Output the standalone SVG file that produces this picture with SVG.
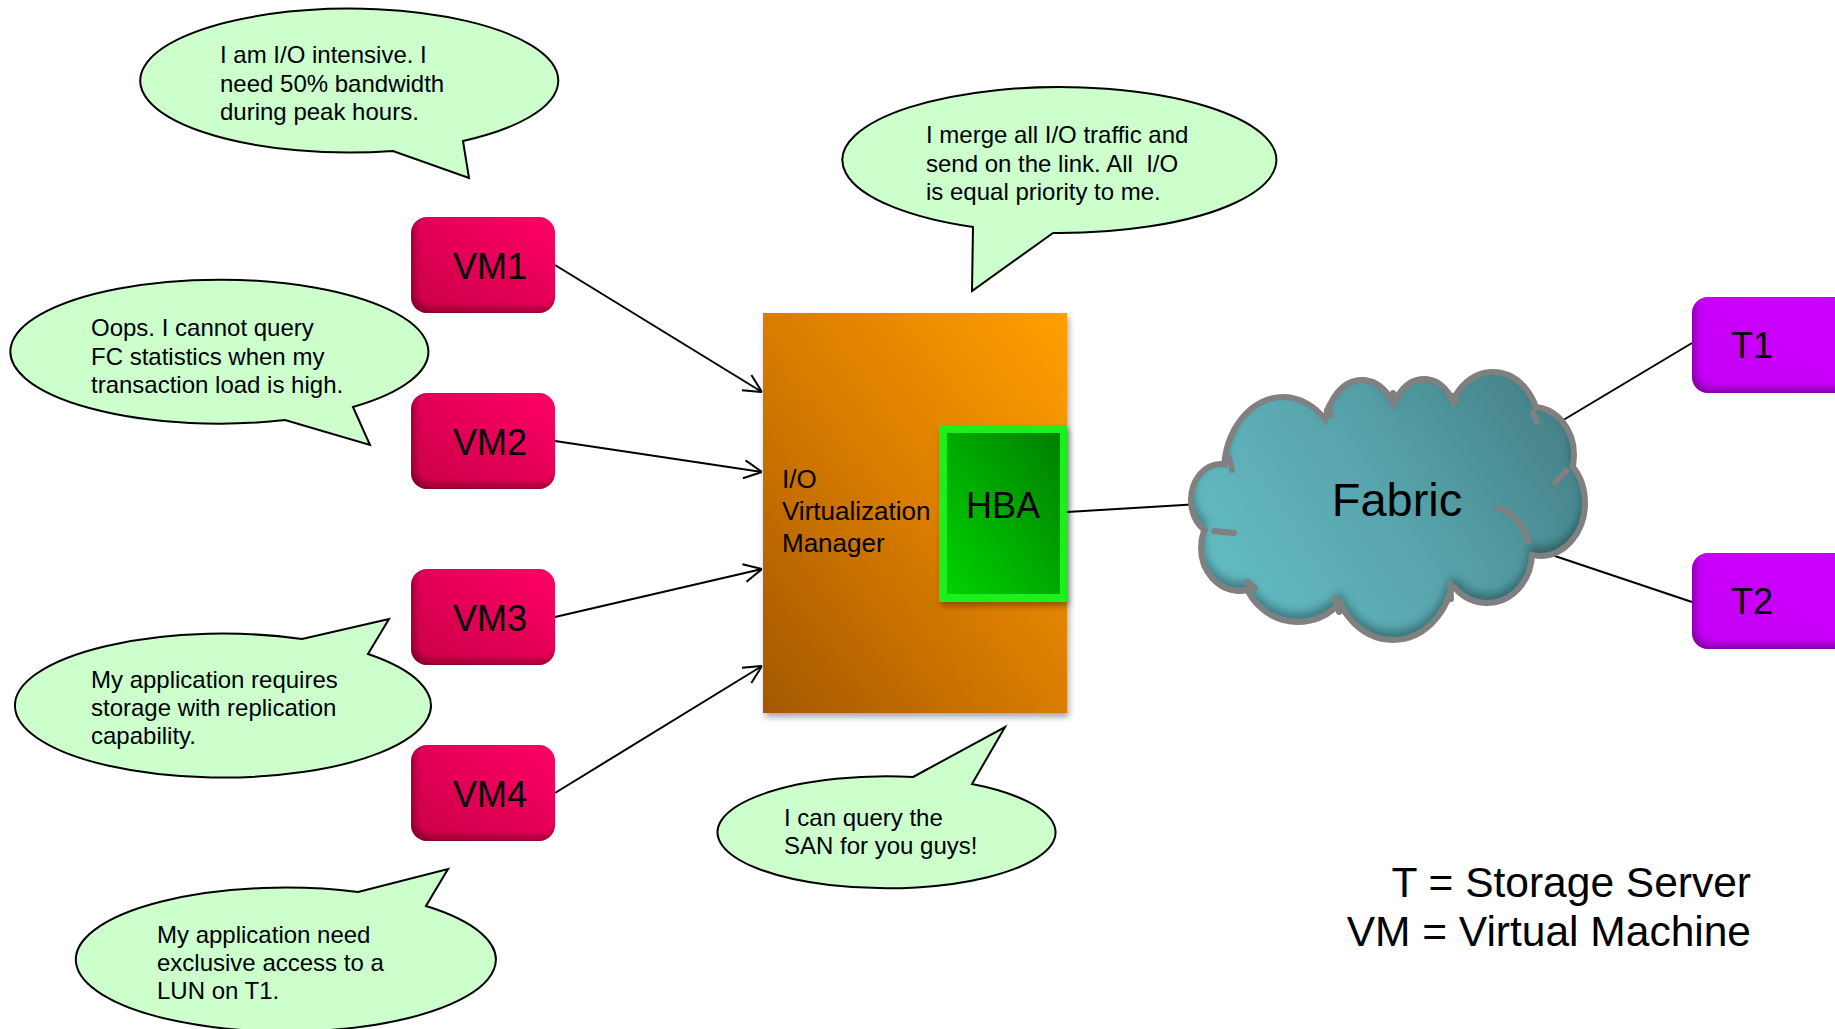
<svg xmlns="http://www.w3.org/2000/svg" width="1835" height="1029" viewBox="0 0 1835 1029">
  <defs>
    <style>
      .bubble { fill: #ccffcc; stroke: #000; stroke-width: 2; }
      .btxt { font-family: "Liberation Sans", Arial, sans-serif; font-size: 24px; fill: #000; white-space: pre; }
      .box-label { font-family: "Liberation Sans", Arial, sans-serif; font-size: 36px; fill: #000; text-anchor: middle; }
      .conn { stroke: #000; stroke-width: 2; fill: none; }
      .cloud-edge { fill: none; stroke: #808080; stroke-width: 6; stroke-linecap: round; }
      .legend { font-family: "Liberation Sans", Arial, sans-serif; font-size: 42.5px; fill: #000; text-anchor: end; }
    </style>
    <linearGradient id="vmFill" x1="0" y1="1" x2="1" y2="0">
      <stop offset="0" stop-color="#c80046"/>
      <stop offset="1" stop-color="#ff0066"/>
    </linearGradient>
    <linearGradient id="tFill" x1="0" y1="1" x2="1" y2="0">
      <stop offset="0" stop-color="#c400f4"/>
      <stop offset="1" stop-color="#cc00ff"/>
    </linearGradient>
    <linearGradient id="iovmFill" x1="0" y1="1" x2="1" y2="0">
      <stop offset="0" stop-color="#a45800"/>
      <stop offset="0.5" stop-color="#d97c00"/>
      <stop offset="1" stop-color="#ffa000"/>
    </linearGradient>
    <linearGradient id="hbaFill" x1="0" y1="1" x2="1" y2="0">
      <stop offset="0" stop-color="#00d200"/>
      <stop offset="1" stop-color="#007f00"/>
    </linearGradient>
    <linearGradient id="cloudFill" gradientUnits="userSpaceOnUse" x1="1200" y1="630" x2="1580" y2="380">
      <stop offset="0" stop-color="#66c0c8"/>
      <stop offset="0.5" stop-color="#58a4ac"/>
      <stop offset="1" stop-color="#437c82"/>
    </linearGradient>
    <filter id="innerShade" x="-10%" y="-10%" width="120%" height="120%">
      <feOffset in="SourceAlpha" dx="4" dy="-5" result="off"/>
      <feGaussianBlur in="off" stdDeviation="3" result="blur"/>
      <feComposite in="SourceAlpha" in2="blur" operator="out" result="edge"/>
      <feFlood flood-color="#200010" flood-opacity="0.6"/>
      <feComposite in2="edge" operator="in" result="shade"/>
      <feMerge><feMergeNode in="SourceGraphic"/><feMergeNode in="shade"/></feMerge>
    </filter>
    <filter id="cloudShade" x="-10%" y="-10%" width="120%" height="120%">
      <feOffset in="SourceAlpha" dx="0" dy="-7" result="off"/>
      <feGaussianBlur in="off" stdDeviation="4" result="blur"/>
      <feComposite in="SourceAlpha" in2="blur" operator="out" result="edge"/>
      <feFlood flood-color="#102a2e" flood-opacity="0.6"/>
      <feComposite in2="edge" operator="in" result="shade"/>
      <feMerge><feMergeNode in="SourceGraphic"/><feMergeNode in="shade"/></feMerge>
    </filter>
    <filter id="dropShadow" x="-10%" y="-10%" width="125%" height="125%">
      <feGaussianBlur in="SourceAlpha" stdDeviation="3"/>
      <feOffset dx="2" dy="4" result="b"/>
      <feFlood flood-color="#000" flood-opacity="0.35"/>
      <feComposite in2="b" operator="in"/>
      <feMerge><feMergeNode/><feMergeNode in="SourceGraphic"/></feMerge>
    </filter>
    <marker id="openArrow" viewBox="0 0 20 20" refX="20" refY="10" markerWidth="20" markerHeight="20" markerUnits="userSpaceOnUse" orient="auto">
      <path d="M2,1 L20,10 L2,19" fill="none" stroke="#000" stroke-width="2"/>
    </marker>
  </defs>

  <rect width="1835" height="1029" fill="#fff"/>

  <!-- connectors -->
  <g id="connectors">
    <line class="conn" x1="555" y1="265" x2="762" y2="392" marker-end="url(#openArrow)"/>
    <line class="conn" x1="555" y1="441" x2="762" y2="472" marker-end="url(#openArrow)"/>
    <line class="conn" x1="555" y1="617" x2="762" y2="569" marker-end="url(#openArrow)"/>
    <line class="conn" x1="555" y1="793" x2="762" y2="666" marker-end="url(#openArrow)"/>
    <line class="conn" x1="1067" y1="512" x2="1200" y2="504"/>
    <line class="conn" x1="1555" y1="425" x2="1692" y2="343"/>
    <line class="conn" x1="1540" y1="551" x2="1692" y2="602"/>
  </g>

  <!-- speech bubbles -->
  <g id="bubble-io">
    <path class="bubble" d="M463,141 L469,178 L393,151 A209,72 0 1 1 463,141 Z"/>
    <text class="btxt" x="220" y="63">I am I/O intensive. I</text>
    <text class="btxt" x="220" y="92">need 50% bandwidth</text>
    <text class="btxt" x="220" y="120">during peak hours.</text>
  </g>
  <g id="bubble-oops">
    <path class="bubble" d="M353,407 L370,445 L285,420 A209,72 0 1 1 353,407 Z"/>
    <text class="btxt" x="91" y="336">Oops. I cannot query</text>
    <text class="btxt" x="91" y="365">FC statistics when my</text>
    <text class="btxt" x="91" y="393">transaction load is high.</text>
  </g>
  <g id="bubble-replication">
    <path class="bubble" d="M302,639 L389,619 L368,654 A208,72 0 1 1 302,639 Z"/>
    <text class="btxt" x="91" y="688">My application requires</text>
    <text class="btxt" x="91" y="716">storage with replication</text>
    <text class="btxt" x="91" y="744">capability.</text>
  </g>
  <g id="bubble-lun">
    <path class="bubble" d="M358,892 L448,869 L426,906 A210,72 0 1 1 358,892 Z"/>
    <text class="btxt" x="157" y="943">My application need</text>
    <text class="btxt" x="157" y="971">exclusive access to a</text>
    <text class="btxt" x="157" y="999">LUN on T1.</text>
  </g>
  <g id="bubble-merge">
    <path class="bubble" d="M1053,233 L972,291 L973,227 A217,73 0 1 1 1053,233 Z"/>
    <text class="btxt" x="926" y="143">I merge all I/O traffic and</text>
    <text class="btxt" x="926" y="172">send on the link. All  I/O</text>
    <text class="btxt" x="926" y="200">is equal priority to me.</text>
  </g>
  <g id="bubble-query">
    <path class="bubble" d="M913,777 L1005,727 L972,784 A169,56 0 1 1 913,777 Z"/>
    <text class="btxt" x="784" y="826">I can query the</text>
    <text class="btxt" x="784" y="854">SAN for you guys!</text>
  </g>

  <!-- virtual machines -->
  <g id="vm1">
    <rect x="411" y="217" width="144" height="96" rx="16" fill="url(#vmFill)" filter="url(#innerShade)"/>
    <text class="box-label" x="490" y="279">VM1</text>
  </g>
  <g id="vm2">
    <rect x="411" y="393" width="144" height="96" rx="16" fill="url(#vmFill)" filter="url(#innerShade)"/>
    <text class="box-label" x="490" y="455">VM2</text>
  </g>
  <g id="vm3">
    <rect x="411" y="569" width="144" height="96" rx="16" fill="url(#vmFill)" filter="url(#innerShade)"/>
    <text class="box-label" x="490" y="631">VM3</text>
  </g>
  <g id="vm4">
    <rect x="411" y="745" width="144" height="96" rx="16" fill="url(#vmFill)" filter="url(#innerShade)"/>
    <text class="box-label" x="490" y="807">VM4</text>
  </g>

  <!-- I/O virtualization manager -->
  <g id="iovm">
    <rect x="763" y="313" width="304" height="400" fill="url(#iovmFill)" filter="url(#dropShadow)"/>
    <text font-family="Liberation Sans, Arial, sans-serif" font-size="26" fill="#000">
      <tspan x="782" y="488">I/O</tspan>
      <tspan x="782" y="520">Virtualization</tspan>
      <tspan x="782" y="552">Manager</tspan>
    </text>
  </g>

  <!-- host bus adapter -->
  <g id="hba">
    <rect x="939" y="425" width="128" height="177" fill="#1af01a" filter="url(#dropShadow)"/>
    <rect x="947" y="433" width="113" height="161" fill="url(#hbaFill)"/>
    <text class="box-label" x="1003" y="518">HBA</text>
  </g>

  <!-- fabric cloud: outline layer, then fill layer, then interior arcs -->
  <g id="fabric">
    <g fill="none" stroke="#808080" stroke-width="12">
      <ellipse cx="1221" cy="500" rx="27" ry="33"/>
      <ellipse cx="1240" cy="548" rx="36" ry="40"/>
      <ellipse cx="1298" cy="568" rx="52" ry="51"/>
      <ellipse cx="1393" cy="567" rx="58" ry="70"/>
      <ellipse cx="1487" cy="553" rx="42" ry="47"/>
      <ellipse cx="1540" cy="503" rx="42" ry="50"/>
      <ellipse cx="1533" cy="455" rx="38" ry="45"/>
      <ellipse cx="1493" cy="428" rx="43" ry="53"/>
      <ellipse cx="1424" cy="436" rx="34" ry="54"/>
      <ellipse cx="1362" cy="437" rx="36" ry="54"/>
      <ellipse cx="1283" cy="472" rx="56" ry="72"/>
    </g>
    <g fill="url(#cloudFill)" filter="url(#cloudShade)">
      <ellipse cx="1221" cy="500" rx="27" ry="33"/>
      <ellipse cx="1240" cy="548" rx="36" ry="40"/>
      <ellipse cx="1298" cy="568" rx="52" ry="51"/>
      <ellipse cx="1393" cy="567" rx="58" ry="70"/>
      <ellipse cx="1487" cy="553" rx="42" ry="47"/>
      <ellipse cx="1540" cy="503" rx="42" ry="50"/>
      <ellipse cx="1533" cy="455" rx="38" ry="45"/>
      <ellipse cx="1493" cy="428" rx="43" ry="53"/>
      <ellipse cx="1424" cy="436" rx="34" ry="54"/>
      <ellipse cx="1362" cy="437" rx="36" ry="54"/>
      <ellipse cx="1283" cy="472" rx="56" ry="72"/>
      <ellipse cx="1390" cy="505" rx="140" ry="90"/>
    </g>
    <path class="cloud-edge" d="M1498,508 A42,47 0 0 1 1528,541"/>
    <path class="cloud-edge" d="M1229,458 L1232,470"/>
    <path class="cloud-edge" d="M1214,531 L1234,533"/>
    <path class="cloud-edge" d="M1247,582 L1255,588"/>
    <path class="cloud-edge" d="M1335,598 L1339,612"/>
    <path class="cloud-edge" d="M1450,584 L1451,599"/>
    <path class="cloud-edge" d="M1555,483 L1566,471"/>
    <path class="cloud-edge" d="M1533,413 L1537,422"/>
    <path class="cloud-edge" d="M1453,396 L1456,401"/>
    <path class="cloud-edge" d="M1393,393 L1393,402"/>
    <path class="cloud-edge" d="M1327,410 L1331,415"/>
    <text x="1397" y="516" font-family="Liberation Sans, Arial, sans-serif" font-size="47" fill="#000" text-anchor="middle">Fabric</text>
  </g>

  <!-- storage servers -->
  <g id="t1">
    <rect x="1692" y="297" width="160" height="96" rx="16" fill="url(#tFill)" filter="url(#innerShade)"/>
    <text class="box-label" x="1752" y="358">T1</text>
  </g>
  <g id="t2">
    <rect x="1692" y="553" width="160" height="96" rx="16" fill="url(#tFill)" filter="url(#innerShade)"/>
    <text class="box-label" x="1752" y="614">T2</text>
  </g>

  <!-- legend -->
  <g id="legend">
    <text class="legend" x="1751" y="897">T = Storage Server</text>
    <text class="legend" x="1751" y="946">VM = Virtual Machine</text>
  </g>
</svg>
